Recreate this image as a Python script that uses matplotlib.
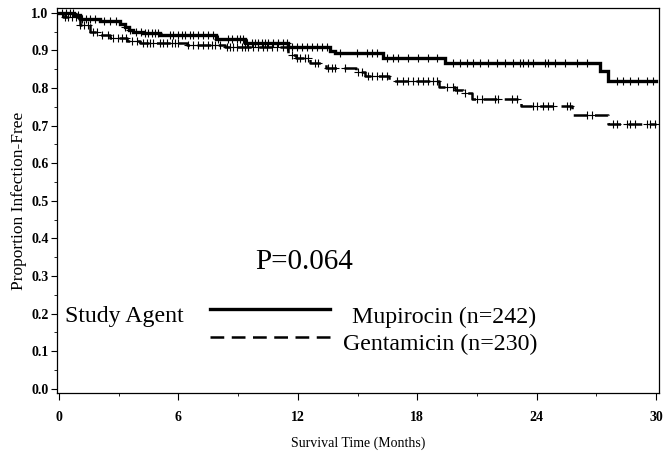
import numpy as np
import matplotlib
matplotlib.use("Agg")
import matplotlib.pyplot as plt

plt.rcParams['font.family'] = ['Liberation Serif', 'DejaVu Serif']

# Kaplan-Meier step data (months, proportion infection-free)
mup_times = [0, 0.75, 1.05, 2.06, 3.07, 3.3, 3.5, 3.72, 4.22, 5.08, 7.9, 9.35, 11.5, 13.6, 13.85, 16.3, 19.4, 27.2, 27.6]
mup_surv = [1.0, 0.995, 0.985, 0.979, 0.97, 0.962, 0.955, 0.95, 0.947, 0.942, 0.93, 0.919, 0.908, 0.898, 0.893, 0.881, 0.867, 0.846, 0.819]
mup_cens = [0.15, 0.35, 0.55, 0.7, 0.95, 1.16, 1.36, 1.56, 1.81, 2.26, 2.56, 2.86, 3.32, 3.57,
            3.87, 4.12, 4.32, 4.47, 4.67, 4.82, 4.97, 5.58, 5.73, 5.98, 6.18, 6.33, 6.58, 6.73,
            6.98, 7.24, 7.49, 7.74, 7.99, 8.49, 8.69, 8.94, 9.1, 9.25, 9.45, 9.7, 9.85, 10.0,
            10.2, 10.35, 10.5, 10.75, 11.0, 11.26, 11.46, 11.71, 11.96, 12.21, 12.46, 12.71,
            12.96, 13.21, 13.46, 14.1, 14.99, 15.5, 15.73, 16.0, 16.48, 16.8, 17.03, 17.54,
            18.04, 18.54, 18.99, 19.8, 20.15, 20.5, 20.8, 21.15, 21.56, 22.0, 22.4, 22.8,
            23.16, 23.3, 23.57, 23.82, 24.42, 24.57, 24.92, 25.43, 26.03, 26.53, 28.04,
            28.34, 28.69, 29.1, 29.55, 29.85]

gen_times = [0, 0.2, 1.05, 1.56, 2.06, 2.56, 3.42, 4.07, 6.45, 8.35, 11.5, 11.9, 12.6, 13.4,
             14.9, 15.4, 16.6, 19.1, 19.9, 20.3, 20.75, 23.2, 25.8, 27.6]
gen_surv = [1.0, 0.99, 0.968, 0.95, 0.941, 0.933, 0.926, 0.919, 0.915, 0.91, 0.888, 0.879,
            0.866, 0.853, 0.844, 0.831, 0.819, 0.804, 0.795, 0.786, 0.77, 0.751, 0.729, 0.705]
gen_cens = [0.3, 0.45, 0.65, 0.85, 1.06, 1.26, 1.46, 1.71, 1.91, 2.16, 2.46, 2.71, 2.96, 3.17,
            3.37, 3.67, 3.92, 4.22, 4.42, 4.57, 4.72, 5.08, 5.23, 5.43, 5.68, 5.83, 5.98, 6.48,
            6.73, 6.98, 7.24, 7.49, 7.69, 7.84, 8.09, 8.44, 8.59, 8.74, 8.94, 9.2, 9.35, 9.5,
            9.75, 10.0, 10.25, 10.45, 10.7, 10.95, 11.26, 11.46, 11.71, 11.96, 12.11, 12.36,
            12.51, 12.86, 13.01, 13.51, 13.72, 13.87, 14.37, 15.03, 15.23, 15.53, 15.73, 15.98,
            16.23, 16.48, 16.98, 17.29, 17.54, 17.79, 18.04, 18.29, 18.54, 18.79, 18.99, 19.5,
            19.8, 20.0, 20.4, 21.0, 21.26, 21.9, 22.06, 22.76, 23.0, 23.82, 24.02, 24.32,
            24.57, 24.82, 25.53, 25.68, 26.53, 26.78, 27.84, 28.04, 28.54, 28.69, 28.94,
            29.55, 29.7, 29.95]

t_end = 30


def surv_at(times, surv, t):
    idx = np.searchsorted(times, t, side='right') - 1
    return np.array(surv)[idx]


fig = plt.figure(figsize=(6.67, 4.59), dpi=100)
ax = fig.add_axes([0.0855, 0.1438, 0.9025, 0.8388])

dash = (0, (5.5, 3))
ax.step(mup_times + [t_end], mup_surv + [mup_surv[-1]], where='post',
        color='black', lw=2.4, solid_joinstyle='miter')
ax.step(gen_times + [t_end], gen_surv + [gen_surv[-1]], where='post',
        color='black', lw=1.8, linestyle=dash)
ax.plot(mup_cens, surv_at(mup_times, mup_surv, mup_cens), '+', color='black', ms=6, mew=0.8)
ax.plot(gen_cens, surv_at(gen_times, gen_surv, gen_cens), '+', color='black', ms=6, mew=0.8)

ax.set_xlim(-0.1, 30.15)
ax.set_ylim(-0.011, 1.013)
ax.set_xticks(np.arange(0, 31, 6))
ax.set_xticks(np.arange(3, 30, 6), minor=True)
ax.set_yticks(np.arange(0, 1.01, 0.1))
ax.set_yticks(np.arange(0.05, 1.0, 0.1), minor=True)
ax.set_yticklabels([f'{v:.1f}' for v in np.arange(0, 1.01, 0.1)])
ax.tick_params(axis='both', which='major', direction='out', length=4, width=0.8,
               labelsize=10, colors='black')
ax.tick_params(axis='x', which='major', length=5, pad=8)
ax.tick_params(axis='y', which='major', pad=2)
ax.tick_params(axis='both', which='minor', direction='out', length=2.5, width=0.6)
for lab in ax.get_xticklabels() + ax.get_yticklabels():
    lab.set_fontweight('bold')
for s in ax.spines.values():
    s.set_linewidth(0.9)

ax.set_xlabel('Survival Time (Months)', fontsize=10, labelpad=9)
ax.set_ylabel('Proportion Infection-Free', fontsize=12.5, labelpad=3)

# p-value and legend block
ax.text(9.85, 0.32, 'P=0.064', fontsize=21, ha='left', va='baseline')
ax.text(0.3, 0.177, 'Study Agent', fontsize=17.2, ha='left', va='baseline')
ax.plot([7.6, 13.6], [0.213, 0.213], color='black', lw=2.4)
ax.plot([7.6, 13.6], [0.138, 0.138], color='black', lw=1.8, linestyle=dash)
ax.text(14.7, 0.175, 'Mupirocin (n=242)', fontsize=17.2, ha='left', va='baseline')
ax.text(14.25, 0.104, 'Gentamicin (n=230)', fontsize=17.2, ha='left', va='baseline')

fig.savefig('out.png', dpi=100)
